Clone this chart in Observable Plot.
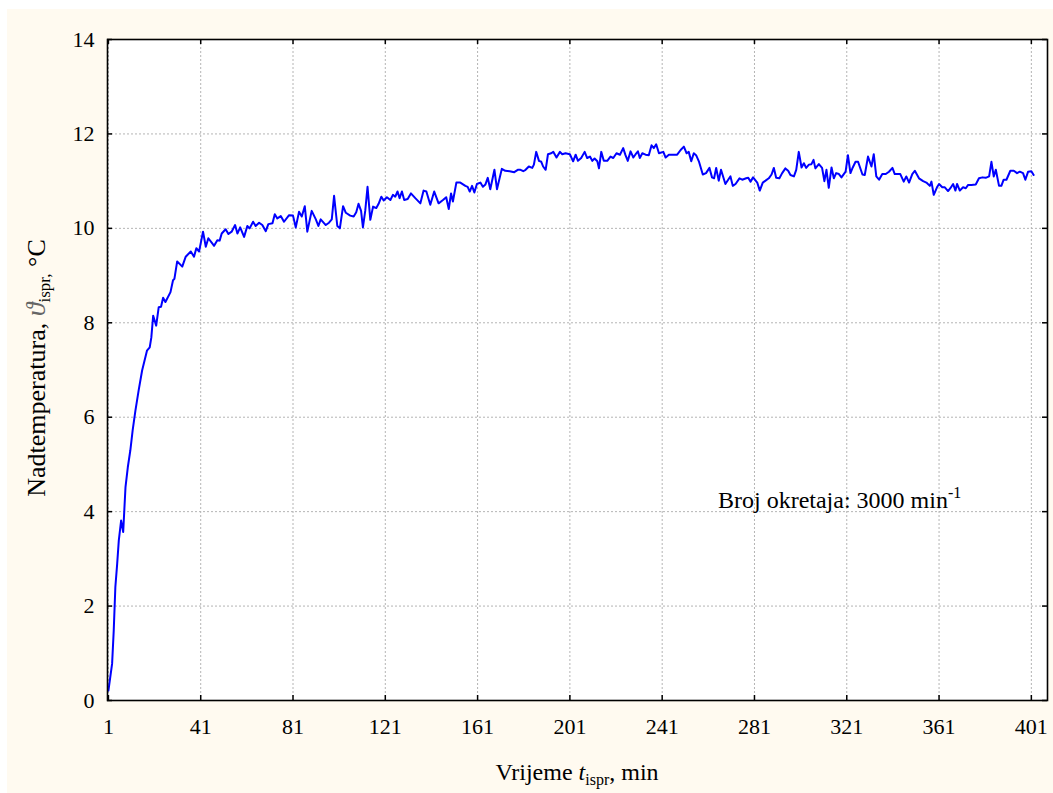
<!DOCTYPE html>
<html>
<head>
<meta charset="utf-8">
<script src="https://cdn.jsdelivr.net/npm/d3@7"></script>
<script src="https://cdn.jsdelivr.net/npm/@observablehq/plot@0.6"></script>
<style>
  html, body { margin: 0; padding: 0; background: #ffffff; }
  #chart { position: absolute; left: 0; top: 0; }
</style>
</head>
<body>
<div id="chart"></div>
<script>
// ---- data ----
const timeMin = [
  1, 2.6, 3.3, 4.0, 4.8, 5.5, 6.5, 7.4, 8.4, 9.4, 10.5, 11.5, 12.7, 14.1, 15.6, 17.7, 18.9, 19.6, 20.4, 21.7,
  22.8, 23.8, 24.7, 25.7, 27.9, 29.0, 29.6, 30.8,
  33.0, 34.5, 36.7, 38.1, 39.1, 40.3, 42.0, 43.2, 44.3, 46.0, 46.8, 48.2, 49.2, 50.1, 51.8, 53.0, 54.4, 55.9,
  56.9, 58.1, 59.8, 61.2, 62.2, 63.7, 64.8, 66.3, 67.7, 69.2, 70.3, 72.1, 73.1, 74.2, 75.7, 77.1, 79.3, 81.0,
  82.2, 83.6, 84.8, 86.1, 87.2, 89.1, 90.9, 92.0, 93.0, 95.2, 96.6, 97.8, 98.8, 100.2, 101.3, 102.7, 103.9,
  105.8, 107.3, 108.4, 109.4, 110.5, 111.3, 112.3, 113.3, 114.5, 115.7, 117.1, 118.1, 119.3, 120.3, 121.7,
  123.2, 124.3, 125.3, 126.3, 127.2, 128.2, 129.2, 130.7, 132.1, 134.0, 136.2, 137.6, 138.8, 140.5, 142.2,
  144.1, 146.0, 147.4, 148.5, 149.5, 150.3, 151.8, 153.5, 155.7, 156.7, 157.6, 158.6, 159.6, 160.7, 162.2,
  163.3, 164.4, 165.4, 166.5, 168.3, 169.4, 171.5, 173.0, 174.9, 176.9, 178.4,
  179.6, 180.8, 181.8, 183.2, 184.7, 185.4, 186.4, 187.6, 188.6, 189.4, 190.5, 191.5, 192.9, 193.8, 195.2,
  196.7, 197.7, 199.1, 201.0, 202.4, 203.5, 204.5, 205.9, 207.4, 208.5, 209.7, 210.7, 211.7, 212.9, 213.6,
  214.6, 215.7, 217.2, 218.6, 219.8, 221.2, 222.7, 224.1, 225.1, 226.1, 227.3, 228.5, 229.5, 230.5, 231.3,
  232.4, 233.8, 235.2, 236.4, 237.4, 238.4, 239.6, 241.5, 242.5, 243.9, 245.4, 247.5, 249.0, 250.4, 251.6,
  252.5, 253.6, 254.7, 255.7, 256.9, 258.6, 260.0, 261.5, 262.6, 263.5, 264.4, 265.5, 266.5, 268.4, 269.6,
  270.6, 271.6, 272.8, 274.5, 275.7, 277.4, 278.3, 279.3, 280.4, 282.2, 283.3, 284.6, 285.8, 287.2, 288.4,
  289.4, 290.4, 291.8, 293.0, 294.4, 295.6, 296.6, 298.1, 299.1, 300.2, 301.4, 302.4, 303.4, 304.6, 305.7,
  306.6, 307.4, 308.9, 310.3, 311.3, 312.2, 313.2, 314.4, 315.4, 316.4, 317.6, 318.7, 320.5, 321.5, 322.6,
  323.6, 324.8, 325.9,
  327.8, 328.8, 330.2, 331.7, 332.7, 333.8, 335.0, 336.4, 337.9, 339.3, 340.8, 341.8, 343.2, 344.2, 345.7,
  346.8, 348.0, 349.4, 350.5, 352.3, 354.1, 355.5, 357.0, 357.7, 358.7, 360.1, 361.0, 362.4, 363.5, 364.9,
  365.9, 367.1, 368.1, 368.8, 370.0, 371.4, 372.6, 373.6, 375.0, 376.9, 378.3, 379.8, 381.2, 382.7, 383.7,
  384.7, 385.6, 387.0, 388.0, 389.0, 390.2, 391.9, 393.4, 394.8, 396.0, 397.4, 398.4, 399.6, 401.0, 402.0
];
const overTemp = [
  0.21, 0.78, 1.48, 2.4, 2.9, 3.39, 3.81, 3.57, 4.52, 4.94, 5.3, 5.72, 6.14, 6.57, 6.99, 7.41, 7.48, 7.69, 8.15, 7.94,
  8.33, 8.34, 8.53, 8.44, 8.65, 8.9, 8.93, 9.3,
  9.19, 9.4, 9.51, 9.4, 9.58, 9.51, 9.93, 9.61, 9.79, 9.68, 9.63, 9.75, 9.74, 9.89, 9.98, 9.88, 9.93, 10.07,
  9.89, 10.02, 9.82, 10.05, 10.0, 10.14, 10.05, 10.12, 10.07, 9.94, 10.09, 10.11, 10.3, 10.21, 10.26, 10.14, 10.28, 10.27,
  10.02, 10.35, 10.25, 10.47, 9.93, 10.37, 10.19, 10.05, 10.19, 10.07, 10.12, 10.19, 10.69, 10.05, 10.0, 10.47, 10.33,
  10.27, 10.25, 10.34, 10.52, 10.37, 10.02, 10.37, 10.88, 10.18, 10.46, 10.43, 10.52, 10.67, 10.59, 10.66,
  10.6, 10.71, 10.67, 10.78, 10.64, 10.78, 10.6, 10.62, 10.74, 10.64, 10.53, 10.8, 10.78, 10.5, 10.78,
  10.53, 10.6, 10.66, 10.41, 10.74, 10.57, 10.97, 10.97, 10.9, 10.88, 10.78, 10.9, 10.76, 10.94, 10.97,
  10.88, 10.93, 11.07, 10.83, 11.24, 10.83, 11.26, 11.22, 11.21, 11.19, 11.24,
  11.24, 11.21, 11.24, 11.31, 11.28, 11.35, 11.62, 11.43, 11.41, 11.31, 11.24, 11.57, 11.59, 11.62, 11.5,
  11.62, 11.57, 11.59, 11.57, 11.42, 11.56, 11.43, 11.49, 11.62, 11.49, 11.52, 11.43, 11.48, 11.42, 11.27,
  11.62, 11.43, 11.43, 11.52, 11.49, 11.59, 11.56, 11.7, 11.55, 11.43, 11.63, 11.5, 11.57, 11.63, 11.49,
  11.59, 11.56, 11.55, 11.76, 11.7, 11.78, 11.59, 11.62, 11.5, 11.56, 11.56, 11.56, 11.66, 11.73, 11.59,
  11.62, 11.42, 11.59, 11.55, 11.42, 11.14, 11.17, 11.28, 11.08, 11.06, 11.28, 11.01, 11.24, 10.94, 11.03,
  11.1, 10.9, 10.94, 11.06, 11.03, 11.06, 11.07, 10.99, 11.08, 10.97, 10.8, 10.97, 11.01, 11.06, 11.14,
  11.28, 11.07, 11.06, 11.17, 11.27, 11.22, 11.13, 11.1, 11.24, 11.62, 11.29, 11.38, 11.28, 11.35, 11.36,
  11.45, 11.27, 11.36, 11.28, 11.0, 11.24, 10.86, 11.29, 11.06, 11.17, 11.15, 11.08, 11.2, 11.55, 11.17,
  11.29, 11.41, 11.41,
  11.14, 11.13, 11.52, 11.31, 11.57, 11.1, 11.03, 11.15, 11.15, 11.2, 11.28, 11.15, 11.15, 11.15, 10.99,
  11.1, 10.97, 11.15, 11.22, 11.06, 11.0, 10.97, 10.9, 10.99, 10.71, 10.87, 10.94, 10.87, 10.87, 10.79,
  10.85, 10.94, 10.8, 10.94, 10.8, 10.87, 10.85, 10.92, 10.92, 10.93, 11.06, 11.08, 11.07, 11.1, 11.41,
  11.1, 11.24, 10.9, 10.9, 11.03, 11.03, 11.22, 11.22, 11.17, 11.2, 11.17, 11.03, 11.2, 11.21, 11.13
];
const xTicks = [1, 41, 81, 121, 161, 201, 241, 281, 321, 361, 401];
const yTicks = [0, 2, 4, 6, 8, 10, 12, 14];
const xTitle = { main: "Vrijeme ", italic: "t", sub: "ispr", tail: ", min" };
const yTitle = { main: "Nadtemperatura, ", symbol: "\u03D1", sub: "ispr,", tail: " \u00B0C" };
const noteText = { main: "Broj okretaja: 3000 min", sup: "-1" };
const noteAt = { t: 265.4, v: 4.07 };

// ---- chart ----
const data = timeMin.map((t, i) => ({ t, v: overTemp[i] }));
const serif = "'Liberation Serif', 'Times New Roman', serif";
const W = 1053, H = 793;
const mL = 107, mR = 6, mT = 39, mB = 93;
const frameW = W - mL - mR, frameH = H - mT - mB;
const tickLen = 5;
const gridStyle = { stroke: "#b4b4b4", strokeOpacity: 1, strokeWidth: 1, strokeDasharray: "2,2" };

const plot = Plot.plot({
  width: W, height: H,
  marginLeft: mL, marginRight: mR, marginTop: mT, marginBottom: mB,
  style: { fontFamily: serif, fontSize: "22px", background: "transparent", color: "black", overflow: "visible" },
  x: { domain: [0.6, 408] },
  y: { domain: [0, 14] },
  marks: [
    Plot.frame({ fill: "white", stroke: null }),
    Plot.gridX(xTicks, gridStyle),
    Plot.gridY(yTicks, gridStyle),
    Plot.line(data, { x: "t", y: "v", stroke: "#0000ff", strokeWidth: 2 }),
    // inward tick marks on four sides
    Plot.tickX(xTicks, { stroke: "black", strokeWidth: 1.5, insetTop: frameH - tickLen }),
    Plot.tickX(xTicks, { stroke: "black", strokeWidth: 1.5, insetBottom: frameH - tickLen }),
    Plot.tickY(yTicks, { stroke: "black", strokeWidth: 1.5, insetRight: frameW - tickLen }),
    Plot.tickY(yTicks, { stroke: "black", strokeWidth: 1.5, insetLeft: frameW - tickLen }),
    Plot.axisX(xTicks, { anchor: "bottom", tickSize: 0, tickPadding: 18, fontSize: 22, label: null, tickFormat: d => String(d) }),
    Plot.axisY(yTicks, { anchor: "left", tickSize: 0, tickPadding: 13, fontSize: 22, label: null, tickFormat: d => String(d) }),
    Plot.frame({ stroke: "black", strokeWidth: 1.6 })
  ]
});

const svg = d3.select(plot);
// cream page background behind everything
svg.insert("rect", ":first-child")
  .attr("x", 7).attr("y", 9).attr("width", W - 7).attr("height", H - 9)
  .attr("fill", "#fffaf0");

function addText(fontSize) {
  return svg.append("text")
    .style("font-family", serif)
    .style("font-size", fontSize + "px")
    .attr("fill", "black");
}

// x title
const xt = addText(24)
  .attr("x", 577).attr("y", 780)
  .attr("text-anchor", "middle");
xt.append("tspan").text(xTitle.main);
xt.append("tspan").style("font-style", "italic").text(xTitle.italic);
xt.append("tspan").style("font-size", "16px").attr("dy", 5).text(xTitle.sub);
xt.append("tspan").attr("dy", -5).text(xTitle.tail);

// y title
const yt = addText(26)
  .attr("transform", "translate(45,368) rotate(-90)")
  .attr("text-anchor", "middle");
yt.append("tspan").text(yTitle.main);
yt.append("tspan").style("font-style", "italic").style("font-size", "28px").attr("fill", "#666").text(yTitle.symbol);
yt.append("tspan").style("font-size", "17px").attr("dy", 5).text(yTitle.sub);
yt.append("tspan").attr("dy", -5).text(yTitle.tail);

// annotation
const sx = plot.scale("x"), sy = plot.scale("y");
const note = addText(24)
  .attr("x", sx.apply(noteAt.t)).attr("y", sy.apply(noteAt.v))
  .attr("text-anchor", "start");
note.append("tspan").text(noteText.main);
note.append("tspan").style("font-size", "16px").attr("dy", -10).text(noteText.sup);

document.getElementById("chart").appendChild(plot);
</script>
</body>
</html>
